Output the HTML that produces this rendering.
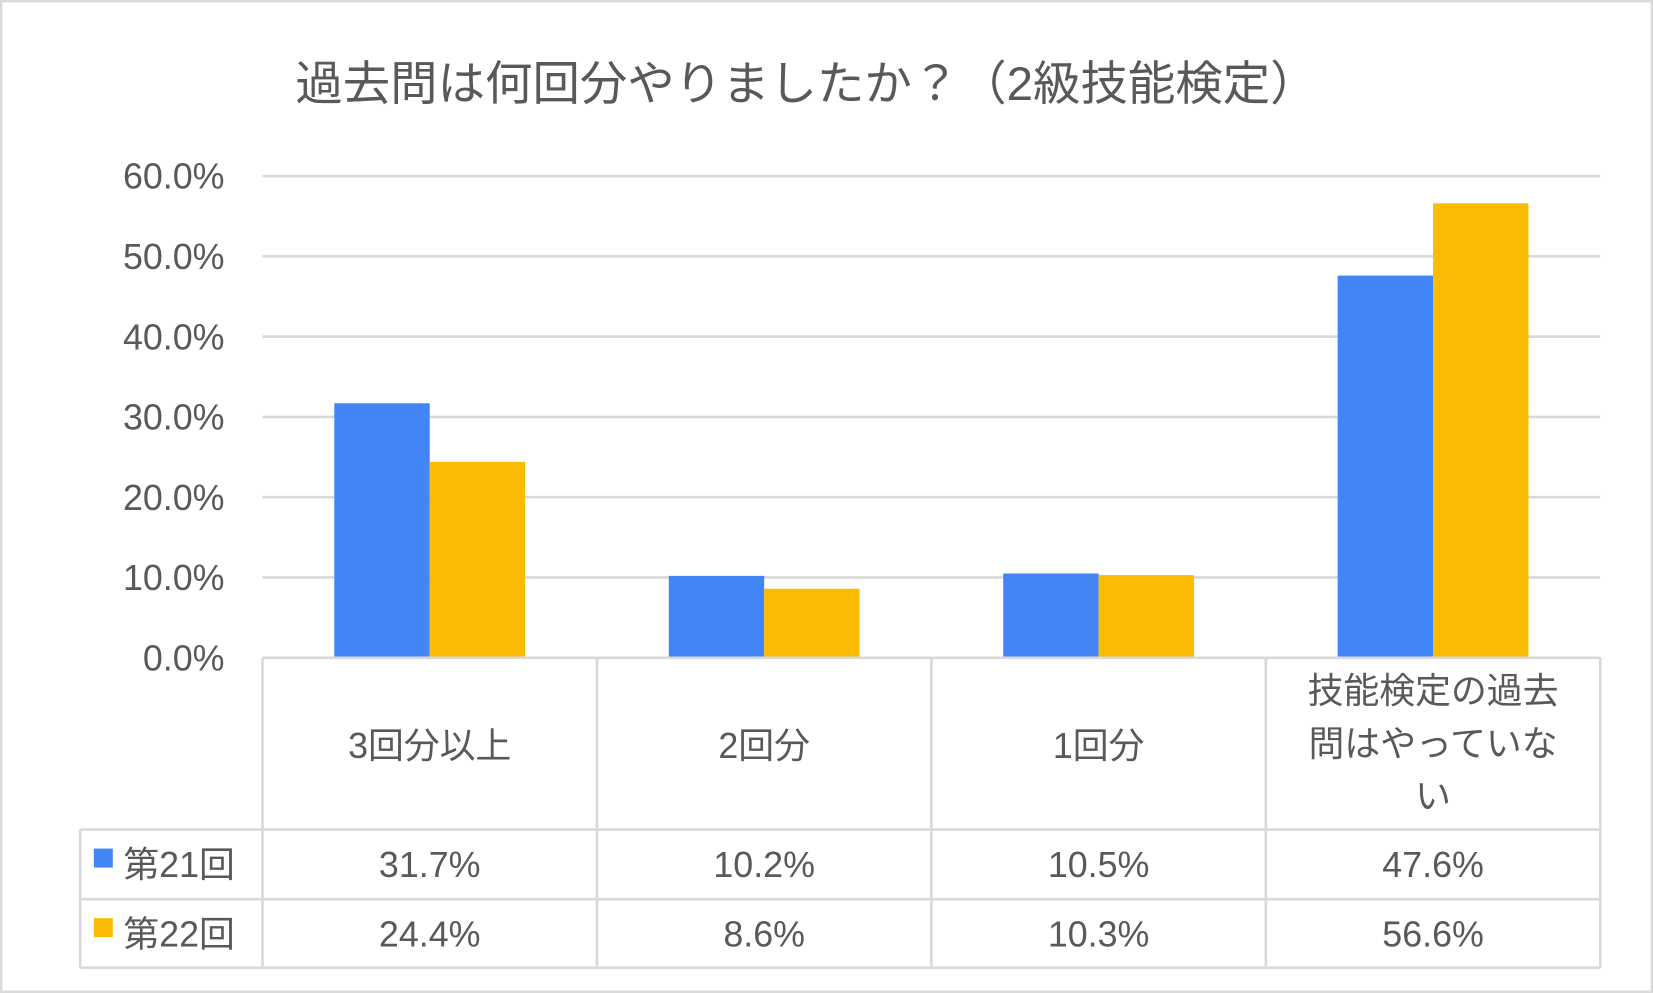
<!DOCTYPE html>
<html><head><meta charset="utf-8"><style>
html,body{margin:0;padding:0;background:#fff;}
svg{display:block;}
text{font-family:"Liberation Sans","Noto Sans CJK JP",sans-serif;fill:#595959;}
</style></head><body>
<svg id="chart" width="1653" height="993" viewBox="0 0 1568 942" preserveAspectRatio="none" xmlns="http://www.w3.org/2000/svg">
<rect x="1" y="1" width="1566" height="940" fill="#fff" stroke="#d9d9d9" stroke-width="2.5"/>
<text x="765" y="95" font-size="45" text-anchor="middle">過去問は何回分やりましたか？（2級技能検定）</text>
<g id="grid"></g><g id="bars"></g><g id="table"></g>
</svg>
<script>
const categories = ["3回分以上", "2回分", "1回分", "技能検定の過去|問はやっていな|い"];
const seriesNames = ["第21回", "第22回"];
const series21 = [31.7, 10.2, 10.5, 47.6];
const series22 = [24.4, 8.6, 10.3, 56.6];
const yTicks = [0, 10, 20, 30, 40, 50, 60];
const colors = ["#4285f4", "#fbbc04"];
const NS = "http://www.w3.org/2000/svg";
const x0 = 249, x1 = 1518, y0 = 624, yTop = 167, yMax = 60;
const y = v => y0 - (v / yMax) * (y0 - yTop);
const bw = (x1 - x0) / categories.length;
const xc = i => x0 + bw * (i + 0.5);
function mk(tag, attrs, parent, txt) {
  const e = document.createElementNS(NS, tag);
  for (const k in attrs) e.setAttribute(k, attrs[k]);
  if (txt !== undefined) e.textContent = txt;
  parent.appendChild(e); return e;
}
const grid = document.getElementById('grid'), bars = document.getElementById('bars'), table = document.getElementById('table');
yTicks.forEach(t => {
  if (t > 0) {
    const l = mk('line', {x1: x0, x2: x1, y1: y(t), y2: y(t), stroke: '#d9d9d9', 'stroke-width': 2.5}, grid);
    
    
  }
  const tx = mk('text', {x: 213, y: y(t) + 12, 'font-size': 34, 'text-anchor': 'end'}, grid, t.toFixed(1) + '%');
  
  
});
const bwid = 90.5;
[series21, series22].forEach((s, si) => {
  s.forEach((v, i) => {
    const bx = si === 0 ? xc(i) - bwid : xc(i);
    const r = mk('rect', {x: bx, y: y(v), width: bwid, height: y0 - y(v), fill: colors[si]}, bars);
    
    
  });
});
const sc = '#d9d9d9', sw = 2.5;
const rowY = [624, 787, 853, 918];
// horizontal lines
mk('line', {x1: x0, x2: x1, y1: 624, y2: 624, stroke: sc, 'stroke-width': sw}, table);
[787, 853, 918].forEach(yy => mk('line', {x1: 76, x2: x1, y1: yy, y2: yy, stroke: sc, 'stroke-width': sw}, table));
mk('line', {x1: 76, x2: 76, y1: 787, y2: 918, stroke: sc, 'stroke-width': sw}, table);
for (let i = 0; i <= categories.length; i++) mk('line', {x1: x0 + bw * i, x2: x0 + bw * i, y1: 624, y2: 918, stroke: sc, 'stroke-width': sw}, table);
categories.forEach((c, i) => {
  const lines = c.split('|');
  const startY = 719 - (lines.length - 1) * 26;
  lines.forEach((ln, j) => {
    const t = mk('text', {x: xc(i), y: startY + j * 50, 'font-size': 34, 'text-anchor': 'middle'}, table, ln);
    
    
  });
});
[series21, series22].forEach((s, si) => {
  const ry = si === 0 ? 832 : 898;
  const sq = mk('rect', {x: 89, y: ry - 27, width: 18, height: 18, fill: colors[si]}, table);
  
  
  const lt = mk('text', {x: 117, y: ry, 'font-size': 34}, table, seriesNames[si]);
  
  
  s.forEach((v, i) => {
    const t = mk('text', {x: xc(i), y: ry, 'font-size': 34, 'text-anchor': 'middle'}, table, v.toFixed(1) + '%');
    
    
  });
});
</script>
</body></html>
